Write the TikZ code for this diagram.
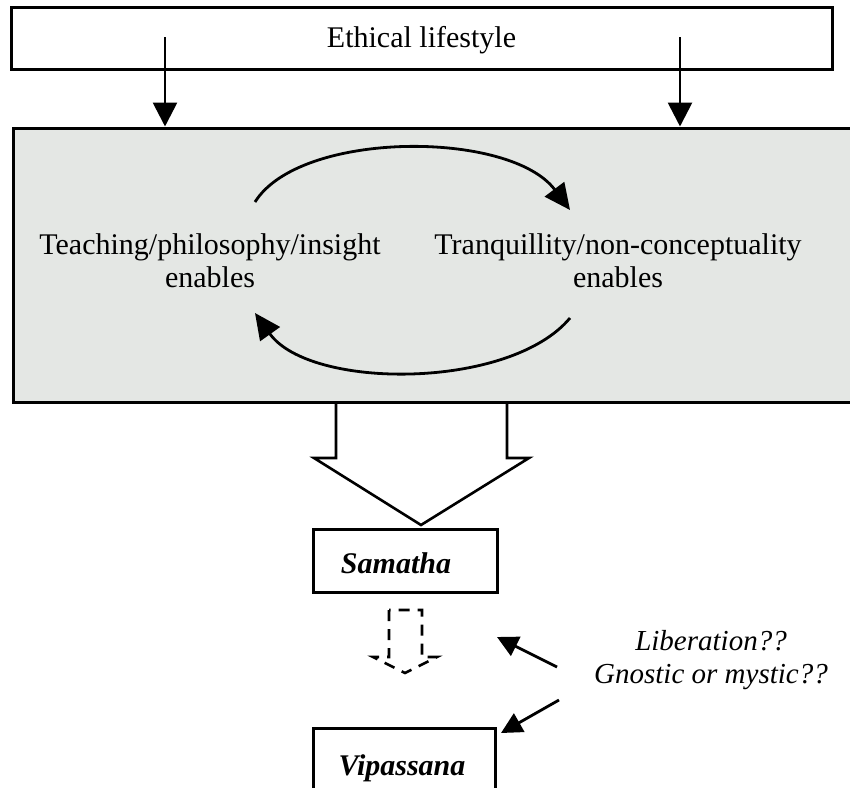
\documentclass[tikz,border=0pt]{standalone}
\usepackage{fontspec}
\setmainfont{Liberation Serif}
\usetikzlibrary{arrows.meta}
\definecolor{panelgray}{RGB}{228,231,228}
\begin{document}
\begin{tikzpicture}[x=1pt,y=-1pt,
  txt/.style={font=\fontsize{30}{33}\selectfont, align=center, inner sep=0pt},
  boxed/.style={draw, line width=3pt, inner sep=0pt},
  arr/.style={line width=2.8pt, -{Triangle[length=24pt,width=24pt]}},
  sidearr/.style={line width=2.8pt, -{Triangle[length=21pt,width=21pt]}},
  curvearr/.style={line width=2.8pt, -{Triangle[length=26pt,width=24pt]}},
  blockarr/.style={line width=2.6pt, line join=miter},
  dasharr/.style={line width=2.6pt, dash pattern=on 11pt off 8pt}]
\useasboundingbox (0,0) rectangle (850,787);

% top band
\node[boxed, minimum width=821pt, minimum height=62pt] (ethic) at (421.5,38) {};
\node[txt] (ethictxt) at (421.5,40) {Ethical lifestyle};

% shaded panel (runs off the right edge)
\node[boxed, fill=panelgray, minimum width=850pt, minimum height=274pt] (panel) at (438,265) {};
\node[txt] (teach) at (210,261) {Teaching/philosophy/insight\\enables};
\node[txt] (tranq) at (618,261) {Tranquillity/non-conceptuality\\enables};

% arrows from the top band into the panel
\coordinate (e1) at (165,37);
\coordinate (e2) at (680,37);
\draw[arr] (e1) -- (e1 |- panel.north);
\draw[arr] (e2) -- (e2 |- panel.north);

% cycle between the two texts
\coordinate (t1) at (255,202);
\coordinate (t2) at (570,210);
\coordinate (b1) at (570,318);
\coordinate (b2) at (255,313);
\draw[curvearr] (t1) .. controls (300,130) and (510,130) .. (t2);
\draw[curvearr] (b1) .. controls (510,390) and (310,390) .. (b2);

% Samatha / Vipassana boxes
\node[boxed, minimum width=184pt, minimum height=63pt] (sam) at (405,560.5) {};
\node[txt, font=\fontsize{30}{33}\selectfont\bfseries\itshape] (samtxt) at (396,563) {Samatha};
\node[boxed, minimum width=182pt, minimum height=80pt] (vip) at (404,768) {};
\node[txt, font=\fontsize{30}{33}\selectfont\bfseries\itshape] (viptxt) at (402,768) {Vipassana};

% broad block arrow from the panel down to Samatha
\draw[blockarr] (336,402) -- (336,458) -- (314,458) -- (421,525) -- (529,458) -- (507,458) -- (507,402);

% dashed block arrow from Samatha towards Vipassana
\draw[dasharr] (389,610) -- (389,657) -- (373,657) -- (405,673) -- (437,657) -- (422,657) -- (422,610) -- cycle;

% side question
\node[txt, font=\fontsize{29}{33}\selectfont\itshape] (lib) at (711,660) {Liberation??\\Gnostic or mystic??};
\coordinate (q1) at (557,667);
\coordinate (q2) at (559,700);
\coordinate (q1tip) at (497,637);
\coordinate (q2tip) at (501,733);
\draw[sidearr] (q1) -- (q1tip);
\draw[sidearr] (q2) -- (q2tip);
\end{tikzpicture}
\end{document}
